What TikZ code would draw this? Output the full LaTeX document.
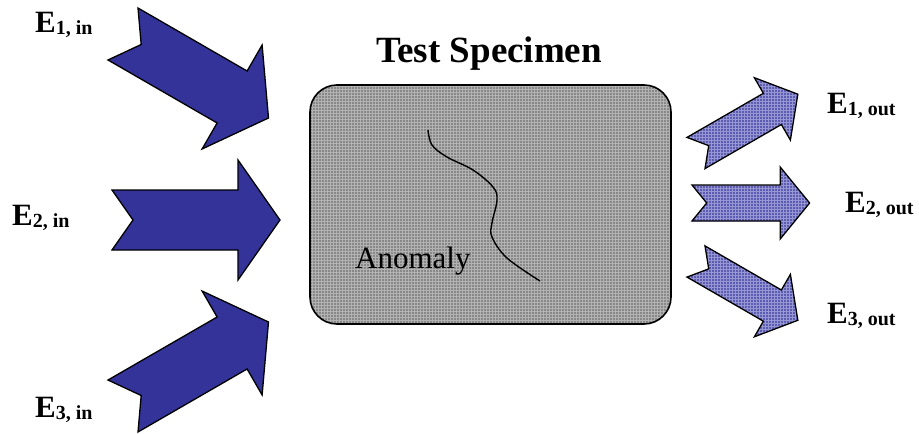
\documentclass[tikz,border=0pt]{standalone}
\usepackage{fontspec}
\setmainfont{Liberation Serif}
\usetikzlibrary{patterns}
\definecolor{arrowblue}{RGB}{51,51,153}
\definecolor{outblue}{RGB}{92,92,176}
\definecolor{outline}{RGB}{150,150,212}
\definecolor{boxgray}{RGB}{136,136,136}
\definecolor{boxline}{RGB}{178,178,178}
\newcommand{\elab}[2]{E\raisebox{-2.5pt}{\fontsize{20}{20}\selectfont #1, #2}}

\begin{document}
\begin{tikzpicture}[
	x=1pt, y=-1pt,
	pics/energyarrow/.style={code={
		\draw[#1] (0,-30) -- (126,-30) -- (126,-60) -- (168,0) -- (126,60) -- (126,30) -- (0,30) -- (21,0) -- cycle;
	}},
	inbody/.style={draw=black, fill=arrowblue, line width=1.3pt},
	outbody/.style={draw=black, preaction={fill=outblue}, pattern=grid, pattern color=outline, line width=1.3pt},
	specimenbox/.style={rectangle, draw, line width=1.6pt, rounded corners=27pt, minimum width=361pt, minimum height=239pt, inner sep=0pt, preaction={fill=boxgray}, pattern=grid, pattern color=boxline},
	elabel/.style={anchor=base west, inner sep=0pt, font=\fontsize{31}{31}\selectfont\bfseries},
	every node/.style={align=center}
	]
	\useasboundingbox (0,0) rectangle (919,434);
	% specimen
	\node[specimenbox] (specimen) at (490.5,204.5) {};
	\node[anchor=base west, inner sep=0pt, font=\fontsize{37}{37}\selectfont\bfseries] (title) at (376,62) {Test Specimen};
	\draw[line width=1.4pt] plot[smooth, tension=.6] coordinates {(428,130) (432,145) (447,157) (473,170) (493,187) (497,200) (492,223) (492,237) (507,258) (540,281)};
	\node[anchor=base west, inner sep=0pt, font=\fontsize{31}{31}\selectfont] (anomaly) at (355,268) {Anomaly};
	% incoming
	\pic[rotate=-30] (ein1) at (123,34) {energyarrow=inbody};
	\pic (ein2) at (112,220) {energyarrow=inbody};
	\pic[rotate=30] (ein3) at (123,406) {energyarrow=inbody};
	% outgoing
	\pic[rotate=30, xscale=.7, yscale=.6] (eout1) at (696,153) {energyarrow=outbody};
	\pic[xscale=.7, yscale=.6] (eout2) at (692,203) {energyarrow=outbody};
	\pic[rotate=-30, xscale=.7, yscale=.6] (eout3) at (696,261.5) {energyarrow=outbody};
	% labels
	\node[elabel] (lin1) at (35,32) {\elab{1}{in}};
	\node[elabel] (lin2) at (12,225) {\elab{2}{in}};
	\node[elabel] (lin3) at (35,417) {\elab{3}{in}};
	\node[elabel] (lout1) at (827,113) {\elab{1}{out}};
	\node[elabel] (lout2) at (845,212) {\elab{2}{out}};
	\node[elabel] (lout3) at (827,323) {\elab{3}{out}};
\end{tikzpicture}
\end{document}
